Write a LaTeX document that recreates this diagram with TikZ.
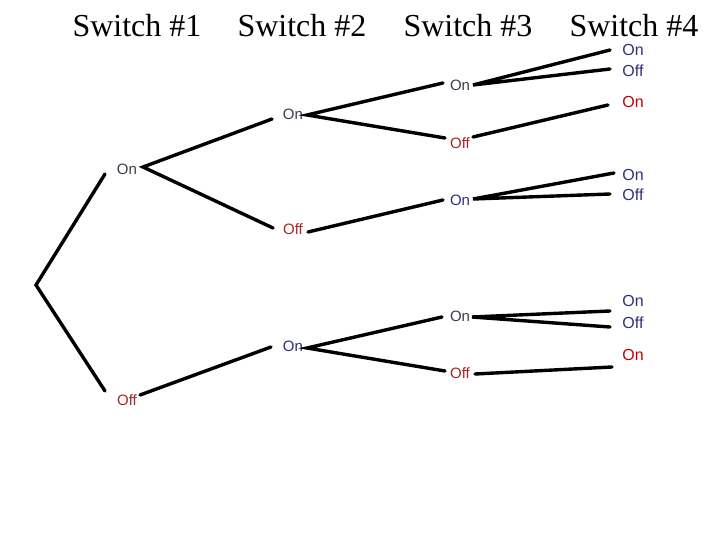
\documentclass[tikz,border=0pt]{standalone}
\usepackage{fontspec}
\setmainfont{Liberation Serif}
\newfontfamily\arialf{Liberation Sans}
\begin{document}
\begin{tikzpicture}[x=1pt,y=-1pt,
  lbl/.style={font=\arialf\fontsize{15}{15}\selectfont, inner sep=0pt},
  lvl4/.style={font=\arialf\fontsize{16}{16}\selectfont, inner sep=0pt},
  title/.style={font=\fontsize{32}{32}\selectfont, anchor=base, inner sep=0pt},
  br/.style={line width=3.4pt, line cap=round}]
\definecolor{grayon}{HTML}{3C3C4C}
\definecolor{navyon}{HTML}{2E2E78}
\definecolor{redoff}{HTML}{A82525}
\definecolor{blue4}{HTML}{2E2E80}
\definecolor{red4}{HTML}{C00000}
\useasboundingbox (0,0) rectangle (720,540);
\fill[white] (0,0) rectangle (720,540);
% titles
\node[title] (t1) at (137,37) {Switch \#1};
\node[title] (t2) at (302,37) {Switch \#2};
\node[title] (t3) at (468,37) {Switch \#3};
\node[title] (t4) at (634,37) {Switch \#4};
% nodes
\coordinate (root) at (36,285);
\node[lbl, text=grayon] (on1) at (127,169) {On};
\node[lbl, text=redoff] (off1) at (127,400) {Off};
\node[lbl, text=grayon] (on2) at (293,114) {On};
\node[lbl, text=redoff] (off2) at (293,229) {Off};
\node[lbl, text=navyon] (on2b) at (293,346) {On};
\node[lbl, text=grayon] (on3a) at (460,85) {On};
\node[lbl, text=redoff] (off3a) at (460,143) {Off};
\node[lbl, text=navyon] (on3b) at (460,200) {On};
\node[lbl, text=grayon] (on3c) at (460,316) {On};
\node[lbl, text=redoff] (off3c) at (460,373) {Off};
\node[lvl4, text=blue4] (a1) at (633,50) {On};
\node[lvl4, text=blue4] (a2) at (633,71) {Off};
\node[lvl4, text=red4] (a3) at (633,102) {On};
\node[lvl4, text=blue4] (b1) at (633,175) {On};
\node[lvl4, text=blue4] (b2) at (633,195) {Off};
\node[lvl4, text=blue4] (c1) at (633,301) {On};
\node[lvl4, text=blue4] (c2) at (633,323) {Off};
\node[lvl4, text=red4] (c3) at (633,355) {On};
% branches
\draw[br] ([shift={(-22,5)}]on1.center) -- (root) -- ([shift={(-22,-9)}]off1.center);
\draw[br] ([shift={(-21,5)}]on2.center) -- ([shift={(16,-2)}]on1.center) -- ([shift={(-20,-1)}]off2.center);
\draw[br] ([shift={(13,-5)}]off1.center) -- ([shift={(-22,1)}]on2b.center);
\draw[br] ([shift={(-17,-2)}]on3a.center) -- ([shift={(14,1)}]on2.center) -- ([shift={(-15,-5)}]off3a.center);
\draw[br] ([shift={(15,3)}]off2.center) -- ([shift={(-17,0)}]on3b.center);
\draw[br] ([shift={(-18,1)}]on3c.center) -- ([shift={(14,2)}]on2b.center) -- ([shift={(-15,-2)}]off3c.center);
\draw[br] ([shift={(-23,0)}]a1.center) -- ([shift={(13,0)}]on3a.center) -- ([shift={(-23,-2)}]a2.center);
\draw[br] ([shift={(13,-6)}]off3a.center) -- ([shift={(-25,3)}]a3.center);
\draw[br] ([shift={(-19,-2)}]b1.center) -- ([shift={(13,-1)}]on3b.center) -- ([shift={(-23,-1)}]b2.center);
\draw[br] ([shift={(-23,10)}]c1.center) -- ([shift={(12,1)}]on3c.center) -- ([shift={(-23,4)}]c2.center);
\draw[br] ([shift={(15,1)}]off3c.center) -- ([shift={(-21,12)}]c3.center);
\end{tikzpicture}
\end{document}
